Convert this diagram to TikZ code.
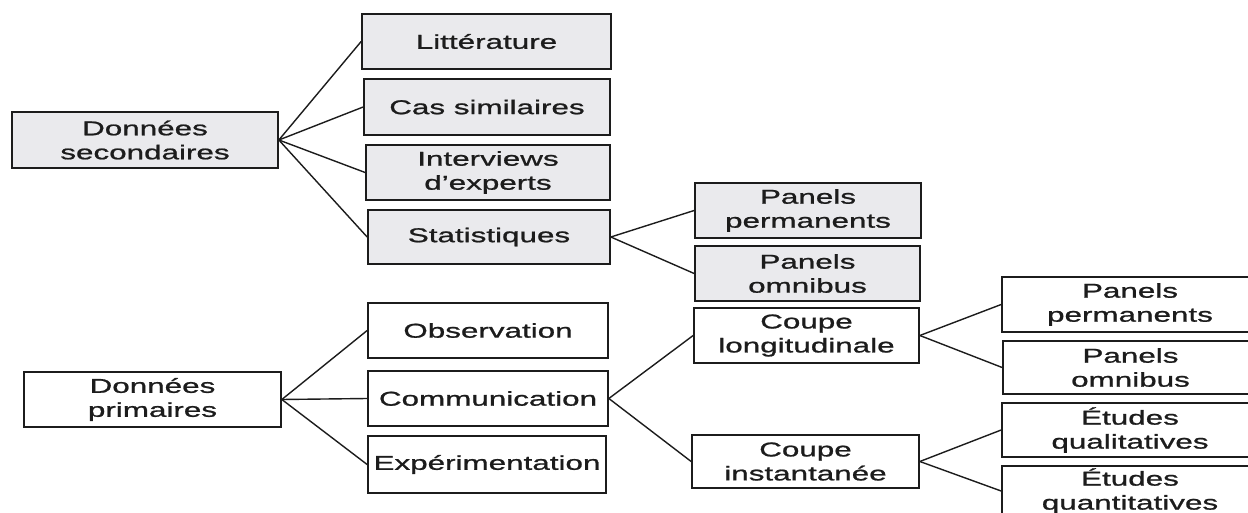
\documentclass[tikz,border=0pt]{standalone}
\usepackage{fontspec}
\setmainfont{Liberation Sans}[FakeStretch=1.57,FakeBold=1]
\definecolor{boxgray}{RGB}{234,234,237}
\definecolor{ink}{RGB}{28,28,28}
\begin{document}
\begin{tikzpicture}[x=1pt,y=-1pt,
  bx/.style={draw=ink, line width=1.7pt, text=ink, align=center, inner sep=0pt,
    font=\fontsize{20}{24}\selectfont},
  sec/.style={bx, fill=boxgray},
  pri/.style={bx, fill=white},
  link/.style={draw=ink, line width=1.4pt}]
\useasboundingbox (0,0) rectangle (1248,513);
\fill[white] (0,0) rectangle (1248,513);
% secondary data
\node[sec, minimum width=266pt, minimum height=56pt] (ds) at (145,140) {Données\\secondaires};
\node[sec, minimum width=249pt, minimum height=55pt] (lit) at (486.5,41.5) {Littérature};
\node[sec, minimum width=246pt, minimum height=56pt] (cas) at (487,107) {Cas similaires};
\node[sec, minimum width=244pt, minimum height=55pt] (itv) at (488,172.5) {Interviews\\d’experts};
\node[sec, minimum width=242pt, minimum height=54pt] (sta) at (489,237) {Statistiques};
\node[sec, minimum width=226pt, minimum height=55pt] (pp1) at (808,210.5) {Panels\\permanents};
\node[sec, minimum width=225pt, minimum height=55pt] (po1) at (807.5,273.5) {Panels\\omnibus};
% primary data
\node[pri, minimum width=257pt, minimum height=55pt] (dp) at (152.5,399.5) {Données\\primaires};
\node[pri, minimum width=240pt, minimum height=55pt] (obs) at (488,330.5) {Observation};
\node[pri, minimum width=240pt, minimum height=55pt] (com) at (488,398.5) {Communication};
\node[pri, minimum width=238pt, minimum height=57pt] (exp) at (487,464.5) {Expérimentation};
\node[pri, minimum width=225pt, minimum height=55pt] (cl) at (806.5,335.5) {Coupe\\longitudinale};
\node[pri, minimum width=227pt, minimum height=53pt] (ci) at (805.5,461.5) {Coupe\\instantanée};
\node[pri, minimum width=256pt, minimum height=55pt] (pp2) at (1130,304.5) {Panels\\permanents};
\node[pri, minimum width=255pt, minimum height=53pt] (po2) at (1130.5,367.5) {Panels\\omnibus};
\node[pri, minimum width=256pt, minimum height=54pt] (eql) at (1130,430) {Études\\qualitatives};
\node[pri, minimum width=256pt, minimum height=50pt] (eqn) at (1130,491) {Études\\quantitatives};
% connectors
\foreach \t in {lit,cas,itv,sta} \draw[link] (ds.east) -- (\t.west);
\foreach \t in {pp1,po1} \draw[link] (sta.east) -- (\t.west);
\foreach \t in {obs,com,exp} \draw[link] (dp.east) -- (\t.west);
\foreach \t in {cl,ci} \draw[link] (com.east) -- (\t.west);
\foreach \t in {pp2,po2} \draw[link] (cl.east) -- (\t.west);
\foreach \t in {eql,eqn} \draw[link] (ci.east) -- (\t.west);
\end{tikzpicture}
\end{document}
